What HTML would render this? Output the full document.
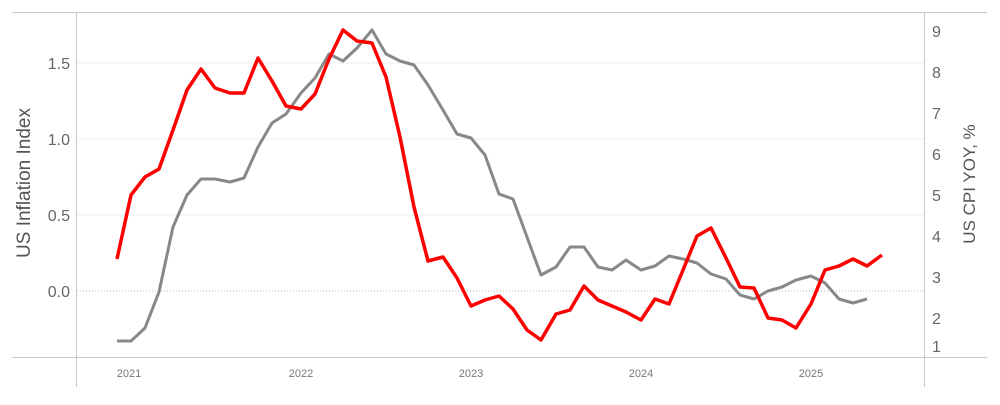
<!DOCTYPE html>
<html><head><meta charset="utf-8"><style>
html,body{margin:0;padding:0;background:#fff;}
svg text{font-family:"Liberation Sans",sans-serif;}
</style></head><body>
<svg width="1000" height="400" viewBox="0 0 1000 400" xmlns="http://www.w3.org/2000/svg">
<rect width="1000" height="400" fill="#fff"/>
<g stroke="#ececec" stroke-width="1">
<line x1="77" y1="63" x2="924" y2="63"/>
<line x1="77" y1="139" x2="924" y2="139"/>
<line x1="77" y1="215" x2="924" y2="215"/>
</g>
<line x1="77" y1="291" x2="924" y2="291" stroke="#bbb" stroke-width="1" stroke-dasharray="1,2"/>
<g stroke="#c8c8c8" stroke-width="1">
<line x1="12" y1="12.5" x2="987" y2="12.5"/>
<line x1="12" y1="357.5" x2="987" y2="357.5"/>
<line x1="76.5" y1="12" x2="76.5" y2="387"/>
<line x1="924.5" y1="12" x2="924.5" y2="387"/>
</g>
<g fill="#666" font-size="16" text-anchor="end">
<text x="70" y="69">1.5</text>
<text x="70" y="145">1.0</text>
<text x="70" y="221">0.5</text>
<text x="70" y="297">0.0</text>
</g>
<g fill="#666" font-size="16" text-anchor="start">
<text x="932" y="37">9</text><text x="932" y="78">8</text><text x="932" y="119">7</text>
<text x="932" y="160">6</text><text x="932" y="201">5</text><text x="932" y="242">4</text>
<text x="932" y="283">3</text><text x="932" y="324">2</text><text x="932" y="352">1</text>
</g>
<g fill="#777" font-size="11" text-anchor="middle">
<text x="129" y="377">2021</text><text x="301" y="377">2022</text><text x="471" y="377">2023</text>
<text x="641" y="377">2024</text><text x="811" y="377">2025</text>
</g>
<text transform="translate(30,183) rotate(-90)" fill="#555" font-size="19" text-anchor="middle">US Inflation Index</text>
<text transform="translate(975,184) rotate(-90)" fill="#555" font-size="17" text-anchor="middle">US CPI YOY, %</text>
<polyline fill="none" stroke="#888" stroke-width="3" stroke-linejoin="round" points="117,341 131,341 145,328 159,292 173,227 187,195 201,179 215,179 230,182 244,178 258,147 272,123 286,114 301,93 315,78 329,54 343,61 357,48 372,30 386,54 400,61 414,65 428,85 443,110 457,134 471,138 485,155 499,194 513,199 527,237 541,275 556,267 570,247 584,247 598,267 612,270 626,260 641,270 655,266 669,256 683,259 697,263 711,274 726,279 740,295 754,299 768,291 782,287 796,280 811,276 825,283 839,299 853,303 867,299"/>
<polyline fill="none" stroke="#f00" stroke-width="3.5" stroke-linejoin="round" points="117,259 131,195 145,177 159,169 173,130 187,90 201,69 215,88 230,93 244,93 258,58 272,81 286,106 301,109 315,94 329,59 343,30 357,41 372,43 386,77 400,137 414,207 428,261 443,257 457,278 471,306 485,300 499,296 513,309 527,330 541,340 556,314 570,310 584,286 598,300 612,306 626,312 641,320 655,299 669,304 683,270 697,236 711,228 726,258 740,287 754,288 768,318 782,320 796,328 811,304 825,270 839,266 853,259 867,266 882,255"/>
</svg>
</body></html>
